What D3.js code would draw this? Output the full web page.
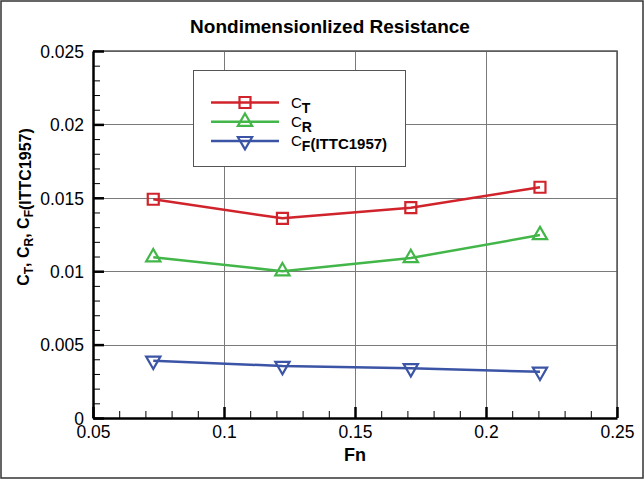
<!DOCTYPE html>
<html>
<head>
<meta charset="utf-8">
<script src="https://cdn.jsdelivr.net/npm/d3@7"></script>
<style>
  body { margin: 0; background: #fff; }
  svg { display: block; font-family: "Liberation Sans", Arial, sans-serif; }
</style>
</head>
<body>
<div id="chart"></div>
<script>
// data
const fn = [0.073, 0.1223, 0.1713, 0.2206];
const ct = [0.0149, 0.0136, 0.01433, 0.01572];
const cr = [0.01095, 0.0100, 0.0109, 0.01246];
const cf = [0.0039, 0.00354, 0.00339, 0.00315];

const xTicks = [0.05, 0.1, 0.15, 0.2, 0.25];
const yTicks = [0, 0.005, 0.01, 0.015, 0.02, 0.025];

const series = [
  { name: 'T', values: ct, color: '#d0232b', symbol: 'square' },
  { name: 'R', values: cr, color: '#43b649', symbol: 'up' },
  { name: 'F', values: cf, color: '#3b54a5', symbol: 'down', extra: '(ITTC1957)' }
];

const width = 644, height = 479;
const pLeft = 93, pRight = 617, pTop = 51, pBottom = 418;

const svg = d3.select('#chart').append('svg')
  .attr('width', width)
  .attr('height', height);

const x = d3.scaleLinear().domain([0.05, 0.25]).range([pLeft, pRight]);
const y = d3.scaleLinear().domain([0, 0.025]).range([pBottom, pTop]);
const fmt = v => String(+v.toFixed(3));

// outer frame
svg.append('rect')
  .attr('x', 1).attr('y', 1)
  .attr('width', width - 2).attr('height', height - 2)
  .attr('fill', '#fff')
  .attr('stroke', '#333')
  .attr('stroke-width', 1.5);

// grid
const grid = svg.append('g').attr('stroke', '#7a7a7a').attr('stroke-width', 1);
grid.selectAll('line.gx').data(xTicks).enter().append('line')
  .attr('x1', d => Math.round(x(d)) + 0.5).attr('x2', d => Math.round(x(d)) + 0.5)
  .attr('y1', pTop).attr('y2', pBottom);
grid.selectAll('line.gy').data(yTicks).enter().append('line')
  .attr('x1', pLeft).attr('x2', pRight)
  .attr('y1', d => Math.round(y(d)) + 0.5).attr('y2', d => Math.round(y(d)) + 0.5);
// top / right frame of plot
svg.append('path')
  .attr('d', `M${pLeft},${pTop}H${pRight}V${pBottom}`)
  .attr('fill', 'none')
  .attr('stroke', '#555')
  .attr('stroke-width', 1.5);

// minor ticks
const minorX = svg.append('g')
  .attr('transform', `translate(0,${pBottom})`)
  .call(d3.axisBottom(x).tickValues(x.ticks(20)).tickSize(-7).tickFormat(''));
const minorY = svg.append('g')
  .attr('transform', `translate(${pLeft},0)`)
  .call(d3.axisLeft(y).tickValues(y.ticks(25)).tickSize(-7).tickFormat(''));
[minorX, minorY].forEach(g => {
  g.select('.domain').remove();
  g.selectAll('line').attr('stroke', '#000').attr('stroke-width', 1);
});

// major axes
const xAxis = svg.append('g')
  .attr('transform', `translate(0,${pBottom})`)
  .call(d3.axisBottom(x).tickValues(xTicks).tickSizeInner(-11).tickSizeOuter(0).tickPadding(0).tickFormat(fmt));
const yAxis = svg.append('g')
  .attr('transform', `translate(${pLeft},0)`)
  .call(d3.axisLeft(y).tickValues(yTicks).tickSizeInner(-11).tickSizeOuter(0).tickPadding(0).tickFormat(fmt));

[xAxis, yAxis].forEach(g => {
  g.select('.domain').attr('stroke', '#000').attr('stroke-width', 2.5);
  g.selectAll('.tick line').attr('stroke', '#000').attr('stroke-width', 2.5);
  g.selectAll('.tick text')
    .attr('font-family', '"Liberation Sans", Arial, sans-serif')
    .attr('font-size', 17.5)
    .attr('fill', '#000');
});
xAxis.selectAll('.tick text').attr('y', 20).attr('dy', 0);
yAxis.selectAll('.tick text').attr('x', -9).attr('dy', '0.36em');

// lines + markers
const line = d3.line().x((d, i) => x(fn[i])).y(d => y(d));
const sym = {
  square: d3.symbol(d3.symbolSquare, 121)(),
  up: d3.symbol(d3.symbolTriangle, 88)(),
  down: d3.symbol(d3.symbolTriangle, 88)()
};

series.forEach(s => {
  svg.append('path')
    .datum(s.values)
    .attr('d', line)
    .attr('fill', 'none')
    .attr('stroke', s.color)
    .attr('stroke-width', 2.5);
  svg.selectAll(null).data(s.values).enter().append('path')
    .attr('d', sym[s.symbol])
    .attr('transform', (d, i) => `translate(${x(fn[i])},${y(d)})` + (s.symbol === 'down' ? ' rotate(180)' : ''))
    .attr('fill', 'none')
    .attr('stroke', s.color)
    .attr('stroke-width', 2.2);
});

// legend
const lg = svg.append('g');
lg.append('rect')
  .attr('x', 193.5).attr('y', 70.5)
  .attr('width', 212).attr('height', 96)
  .attr('fill', '#fff')
  .attr('stroke', '#555')
  .attr('stroke-width', 1);
series.forEach((s, i) => {
  const ly = 102.5 + i * 19.3;
  lg.append('line')
    .attr('x1', 211).attr('x2', 279)
    .attr('y1', ly).attr('y2', ly)
    .attr('stroke', s.color)
    .attr('stroke-width', 2.5);
  lg.append('path')
    .attr('d', sym[s.symbol])
    .attr('transform', `translate(245,${ly})` + (s.symbol === 'down' ? ' rotate(180)' : ''))
    .attr('fill', 'none')
    .attr('stroke', s.color)
    .attr('stroke-width', 2.2);
  const t = lg.append('text')
    .attr('x', 291).attr('y', ly + 5)
    .attr('font-size', 15)
    .attr('fill', '#000');
  t.append('tspan').text('C');
  t.append('tspan').attr('dy', 5).attr('font-size', 14).attr('font-weight', 'bold').text(s.name);
  if (s.extra) t.append('tspan').attr('dy', -2).attr('font-size', 15).attr('font-weight', 'bold').text(s.extra);
});

// title
svg.append('text')
  .attr('x', 330).attr('y', 33)
  .attr('text-anchor', 'middle')
  .attr('font-size', 19)
  .attr('font-weight', 'bold')
  .text('Nondimensionlized Resistance');

// x label
svg.append('text')
  .attr('x', (pLeft + pRight) / 2).attr('y', 461)
  .attr('text-anchor', 'middle')
  .attr('font-size', 18)
  .attr('font-weight', 'bold')
  .text('Fn');

// y label
const yl = svg.append('text')
  .attr('transform', 'translate(29,207) rotate(-90)')
  .attr('text-anchor', 'middle')
  .attr('font-size', 16)
  .attr('font-weight', 'bold');
yl.append('tspan').text('C');
yl.append('tspan').attr('font-size', 12).attr('dy', 4).text('T');
yl.append('tspan').attr('dy', -4).text(', C');
yl.append('tspan').attr('font-size', 12).attr('dy', 4).text('R');
yl.append('tspan').attr('dy', -4).text(', C');
yl.append('tspan').attr('font-size', 12).attr('dy', 4).text('F');
yl.append('tspan').attr('dy', -2).text('(ITTC1957)');
</script>
</body>
</html>
